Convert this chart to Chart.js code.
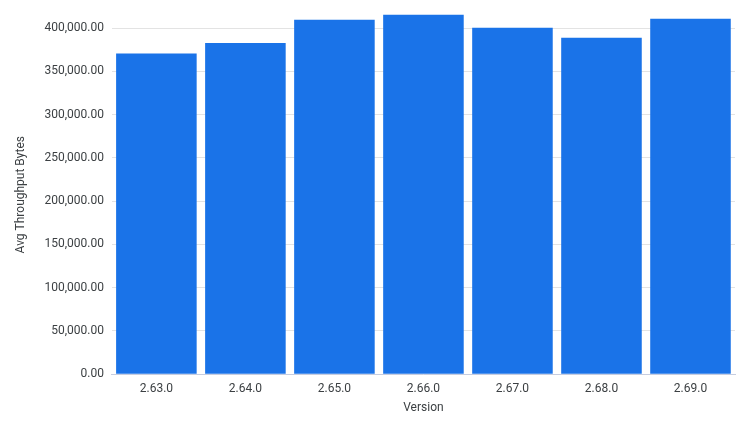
<!DOCTYPE html>
<html>
<head>
<meta charset="utf-8">
<script src="https://cdn.jsdelivr.net/npm/chart.js@4"></script>
<style>
  html, body { margin: 0; padding: 0; background: #fff; }
  #wrap { width: 745px; height: 429px; }
</style>
</head>
<body>
<div id="wrap"><canvas id="grafico"></canvas></div>
<script>
// Datos del gráfico
const versiones = ['2.63.0', '2.64.0', '2.65.0', '2.66.0', '2.67.0', '2.68.0', '2.69.0'];
const throughput = [370600, 383000, 409600, 415400, 400400, 388800, 410800];
const marcasY = [0, 50000, 100000, 150000, 200000, 250000, 300000, 350000, 400000];

const ctx = document.getElementById('grafico').getContext('2d');

const fmt = v => v.toLocaleString('en-US', { minimumFractionDigits: 2, maximumFractionDigits: 2 });

new Chart(ctx, {
  type: 'bar',
  data: {
    labels: versiones,
    datasets: [{
      label: 'Avg Throughput Bytes',
      data: throughput,
      backgroundColor: '#1a73e8',
      borderWidth: 0,
      clip: false,
      categoryPercentage: 1,
      barPercentage: 0.905
    }]
  },
  options: {
    responsive: true,
    maintainAspectRatio: false,
    animation: false,
    layout: { padding: { top: 1, right: 10, bottom: 14, left: 10 } },
    plugins: {
      legend: { display: false },
      tooltip: { enabled: false }
    },
    scales: {
      x: {
        grid: { display: false, drawTicks: false },
        border: { color: '#c6cde0', width: 1 },
        ticks: { color: '#3c4043', font: { family: 'Roboto', size: 12 }, padding: 8 },
        title: { display: true, text: 'Version', color: '#3c4043', font: { family: 'Roboto', size: 12 }, padding: { top: -4, bottom: 0 } }
      },
      y: {
        min: 0,
        max: 415000,
        afterBuildTicks: axis => {
          axis.ticks = marcasY.map(v => ({ value: v }));
        },
        grid: { color: '#e3e3e3', drawTicks: false },
        border: { display: false },
        ticks: {
          autoSkip: false,
          color: '#3c4043',
          font: { family: 'Roboto', size: 12 },
          padding: 8,
          callback: v => fmt(v)
        },
        title: { display: true, text: 'Avg Throughput Bytes', color: '#3c4043', font: { family: 'Roboto', size: 12 }, padding: { bottom: 8 } }
      }
    }
  }
});
</script>
</body>
</html>
